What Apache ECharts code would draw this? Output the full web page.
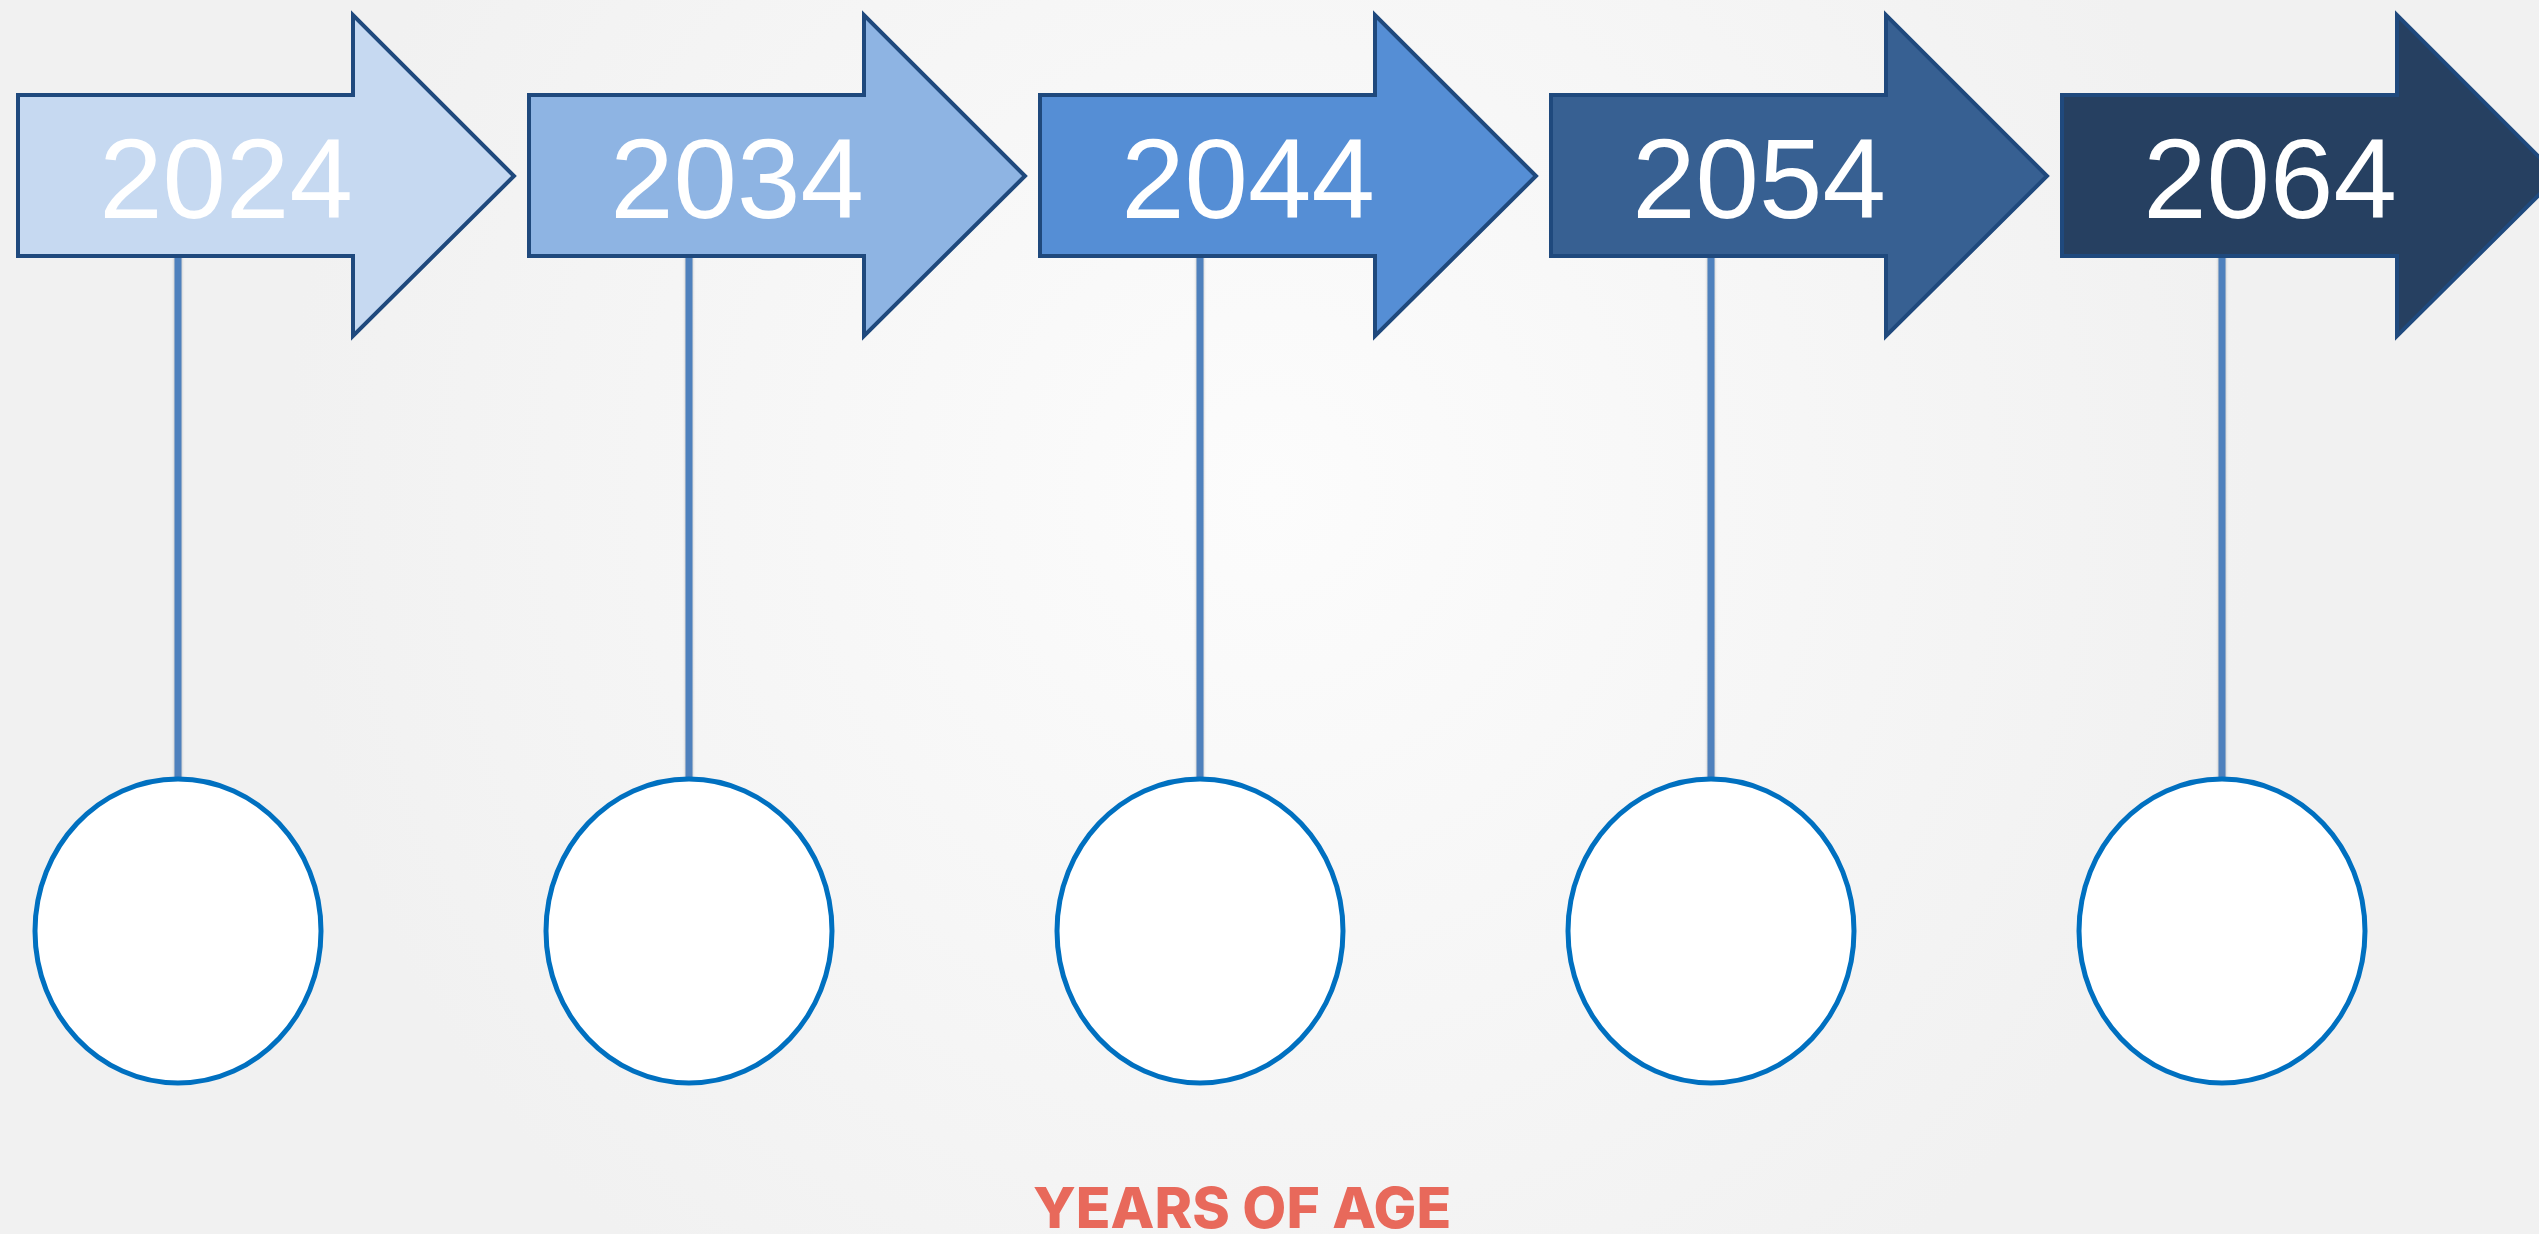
<!DOCTYPE html>
<html>
<head>
<meta charset="utf-8">
<title>Timeline</title>
<script src="https://cdn.jsdelivr.net/npm/echarts@6/dist/echarts.min.js"></script>
<style>
  html, body { margin: 0; padding: 0; }
  #main { width: 2539px; height: 1234px; }
</style>
</head>
<body>
<div id="main"></div>
<script>
// 时间轴上的年份
var years = ['2024', '2034', '2044', '2054', '2064'];
var yearValues = [2024, 2034, 2044, 2054, 2064];
var footerText = 'YEARS OF AGE';

// 箭头颜色 (由浅到深)
var arrowColors = ['#c6d9f1', '#8eb4e3', '#558ed5', '#376092', '#264061'];

var drawTimeline = function () {
    var myCharts = echarts.init(document.getElementById('main'));

    // 箭头
    var renderArrow = function (params, api) {
        var cx = api.coord([api.value(0), 0])[0];
        var left = cx - 160, headX = cx + 175, tipX = cx + 336;
        var top = 95, bottom = 256, headTop = 15, headBottom = 336, midY = 176;
        return {
            type: 'group',
            children: [{
                type: 'polygon',
                shape: {
                    points: [
                        [left, top], [headX, top], [headX, headTop], [tipX, midY],
                        [headX, headBottom], [headX, bottom], [left, bottom]
                    ]
                },
                style: {
                    fill: arrowColors[params.dataIndex],
                    stroke: '#1f497d',
                    lineWidth: 4,
                    lineJoin: 'miter'
                }
            }, {
                type: 'text',
                style: {
                    text: years[params.dataIndex],
                    x: cx + 48,
                    y: 187,
                    fill: '#ffffff',
                    fontSize: 114,
                    fontFamily: '"Liberation Sans", sans-serif',
                    align: 'center',
                    verticalAlign: 'middle'
                }
            }]
        };
    };

    // 竖线和圆
    var renderPin = function (params, api) {
        var cx = api.coord([api.value(0), 0])[0];
        return {
            type: 'group',
            children: [{
                type: 'rect',
                shape: { x: cx - 3.5, y: 250, width: 7, height: 532 },
                style: { fill: '#4f81bd', shadowBlur: 3, shadowColor: 'rgba(0,0,0,0.25)' }
            }, {
                type: 'ellipse',
                shape: { cx: cx, cy: 931, rx: 143, ry: 152 },
                style: { fill: '#ffffff', stroke: '#0070c0', lineWidth: 5 }
            }]
        };
    };

    var option = {
        backgroundColor: new echarts.graphic.RadialGradient(0.5, 0.4, 0.8, [
            { offset: 0, color: '#fcfcfc' },
            { offset: 1, color: '#f1f1f1' }
        ]),
        title: {
            text: footerText,
            left: 1033,
            top: 1180,
            padding: 0,
            textStyle: {
                color: '#e8695b',
                fontSize: 57,
                fontWeight: 800,
                fontFamily: 'Inter, sans-serif',
                lineHeight: 62
            }
        },
        grid: { left: 178, right: 317, top: 0, bottom: 0 },
        xAxis: { type: 'value', min: 2024, max: 2064, show: false },
        yAxis: { type: 'value', min: 0, max: 1, show: false },
        series: [{
            type: 'custom',
            renderItem: renderPin,
            data: yearValues.map(function (v) { return [v]; }),
            silent: true
        }, {
            type: 'custom',
            renderItem: renderArrow,
            data: yearValues.map(function (v) { return [v]; }),
            silent: true
        }]
    };

    myCharts.setOption(option);
};

drawTimeline();
</script>
</body>
</html>
